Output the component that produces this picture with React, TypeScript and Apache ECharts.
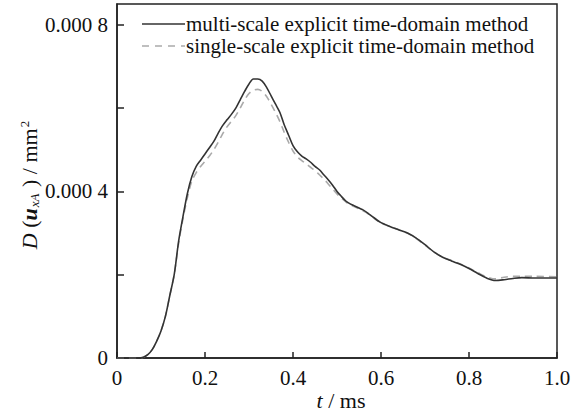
import React, { useEffect, useRef } from "react";
import * as echarts from "echarts";

const tMulti = [0, 0.025, 0.05, 0.06, 0.07, 0.08, 0.09, 0.1, 0.11, 0.12, 0.13, 0.14, 0.15, 0.16, 0.17, 0.18, 0.19, 0.2, 0.21, 0.22, 0.23, 0.24, 0.25, 0.26, 0.27, 0.28, 0.29, 0.3, 0.31, 0.32, 0.33, 0.34, 0.35, 0.36, 0.37, 0.38, 0.39, 0.4, 0.41, 0.42, 0.43, 0.44, 0.45, 0.46, 0.47, 0.48, 0.49, 0.5, 0.51, 0.52, 0.53, 0.54, 0.55, 0.56, 0.57, 0.58, 0.59, 0.6, 0.62, 0.64, 0.66, 0.68, 0.7, 0.72, 0.74, 0.76, 0.78, 0.8, 0.82, 0.84, 0.86, 0.88, 0.9, 0.92, 0.95, 1.0];
const multiScale = [0, 0, 0, 0.000002, 0.000008, 0.00002, 0.00004, 0.000065, 0.0001, 0.00015, 0.0002, 0.00028, 0.00034, 0.000395, 0.000435, 0.00046, 0.000475, 0.00049, 0.000505, 0.00052, 0.00054, 0.000558, 0.000572, 0.000585, 0.0006, 0.00062, 0.00064, 0.000658, 0.00067, 0.00067, 0.000665, 0.00065, 0.00063, 0.00061, 0.00059, 0.00056, 0.000535, 0.00051, 0.000495, 0.000485, 0.000478, 0.00047, 0.00046, 0.000452, 0.00044, 0.000428, 0.000415, 0.0004, 0.000388, 0.000377, 0.00037, 0.000365, 0.00036, 0.000355, 0.000348, 0.00034, 0.000332, 0.000325, 0.000316, 0.000308, 0.0003, 0.000288, 0.000272, 0.000255, 0.000242, 0.000233, 0.000225, 0.000215, 0.000203, 0.000192, 0.000186, 0.000188, 0.000191, 0.000193, 0.000192, 0.000192];
const singleScale = [0, 0, 0, 0.000002, 0.000008, 0.00002, 0.00004, 0.000065, 0.0001, 0.00015, 0.0002, 0.000275, 0.000335, 0.000385, 0.000425, 0.000445, 0.00046, 0.000472, 0.000485, 0.0005, 0.000518, 0.000538, 0.000555, 0.000568, 0.000582, 0.0006, 0.00062, 0.000635, 0.000643, 0.000645, 0.00064, 0.000628, 0.00061, 0.00059, 0.000568, 0.000542, 0.000518, 0.000497, 0.000483, 0.000474, 0.000466, 0.000458, 0.00045, 0.00044, 0.00043, 0.000418, 0.000406, 0.000394, 0.000384, 0.000375, 0.000368, 0.000363, 0.000358, 0.000353, 0.000347, 0.000339, 0.000331, 0.000324, 0.000316, 0.000308, 0.0003, 0.000287, 0.000271, 0.000255, 0.000242, 0.000234, 0.000226, 0.000216, 0.000205, 0.000195, 0.00019, 0.000194, 0.000196, 0.000196, 0.000196, 0.000195];
const yTicks = [0, 0.0002, 0.0004, 0.0006, 0.0008];
const yLabels = [0, 0.0004, 0.0008];
const yLabelText = ["0", "0.000 4", "0.000 8"];
const seriesNames = ["multi-scale explicit time-domain method", "single-scale explicit time-domain method"];

const FONT = "'Liberation Serif', 'Times New Roman', serif";
const SOLID = "#333";
const DASH = "#aaa";

export default function App() {
  const ref = useRef<HTMLDivElement>(null);
  useEffect(() => {
    if (!ref.current) return;
    const chart = echarts.init(ref.current, null, { renderer: "svg" });
    chart.setOption({
      animation: false,
      textStyle: { fontFamily: FONT },
      grid: {
        left: 117, right: 29, top: 4, bottom: 56,
        show: true, borderColor: "#222", borderWidth: 1.5, backgroundColor: "transparent",
      },
      xAxis: {
        type: "value",
        min: 0, max: 1, interval: 0.2,
        axisLine: { show: true, lineStyle: { color: "#222", width: 1.5 } },
        axisTick: { show: true, inside: true, length: 6, lineStyle: { color: "#222", width: 1.5 } },
        splitLine: { show: false },
        axisLabel: {
          fontFamily: FONT, fontSize: 21, color: "#111", margin: 9,
          formatter: (v: number) => (v === 0 ? "0" : v.toFixed(1)),
        },
      },
      yAxis: {
        type: "value",
        min: 0, max: 0.00085,
        axisLine: { show: true, lineStyle: { color: "#222", width: 1.5 } },
        axisTick: { show: true, inside: true, length: 7, customValues: yTicks, lineStyle: { color: "#222", width: 1.5 } },
        splitLine: { show: false },
        axisLabel: {
          fontFamily: FONT, fontSize: 21, color: "#111", margin: 9,
          customValues: yLabels,
          formatter: (v: number) => {
            const i = yLabels.findIndex((x) => Math.abs(x - v) < 1e-9);
            return i >= 0 ? yLabelText[i] : "";
          },
        },
      },
      series: [
        {
          name: seriesNames[0],
          type: "line",
          symbol: "none",
          smooth: 0.3,
          data: tMulti.map((t, i) => [t, multiScale[i]]),
          lineStyle: { color: SOLID, width: 1.6, type: "solid" },
          z: 3,
        },
        {
          name: seriesNames[1],
          type: "line",
          symbol: "none",
          smooth: 0.3,
          data: tMulti.map((t, i) => [t, singleScale[i]]),
          lineStyle: { color: DASH, width: 1.6, type: [7, 5] },
          z: 2,
        },
      ],
      graphic: [
        { type: "line", shape: { x1: 142, y1: 24, x2: 185, y2: 24 }, style: { stroke: SOLID, lineWidth: 1.6 } },
        { type: "text", x: 186, y: 24, style: { text: seriesNames[0], font: `21px ${FONT}`, fill: "#111", verticalAlign: "middle", align: "left" } },
        { type: "line", shape: { x1: 142, y1: 46, x2: 185, y2: 46 }, style: { stroke: DASH, lineWidth: 1.6, lineDash: [7, 6] } },
        { type: "text", x: 186, y: 46, style: { text: seriesNames[1], font: `21px ${FONT}`, fill: "#111", verticalAlign: "middle", align: "left" } },
        {
          type: "text",
          x: 29,
          y: 185,
          rotation: Math.PI / 2,
          style: {
            text: "{i|D}{n| (}{bi|u}{sub|xA}{n| ) / mm}{sup|2}",
            align: "center",
            verticalAlign: "middle",
            fill: "#111",
            rich: {
              i: { fontFamily: FONT, fontSize: 22, fontStyle: "italic", fill: "#111" },
              n: { fontFamily: FONT, fontSize: 22, fill: "#111" },
              bi: { fontFamily: FONT, fontSize: 22, fontStyle: "italic", fontWeight: "bold", fill: "#111" },
              sub: { fontFamily: FONT, fontSize: 13, fontStyle: "italic", fill: "#111", padding: [10, 1, 0, 1] },
              sup: { fontFamily: FONT, fontSize: 13, fill: "#111", padding: [0, 0, 10, 1] },
            },
          },
        },
        {
          type: "text",
          x: 341,
          y: 400,
          style: {
            text: "{i|t}{n| / ms}",
            align: "center",
            verticalAlign: "middle",
            rich: {
              i: { fontFamily: FONT, fontSize: 22, fontStyle: "italic", fill: "#111" },
              n: { fontFamily: FONT, fontSize: 22, fill: "#111" },
            },
          },
        },
      ],
    });
    return () => chart.dispose();
  }, []);
  return <div ref={ref} style={{ width: 586, height: 414, position: "absolute", left: 0, top: 0 }} />;
}
